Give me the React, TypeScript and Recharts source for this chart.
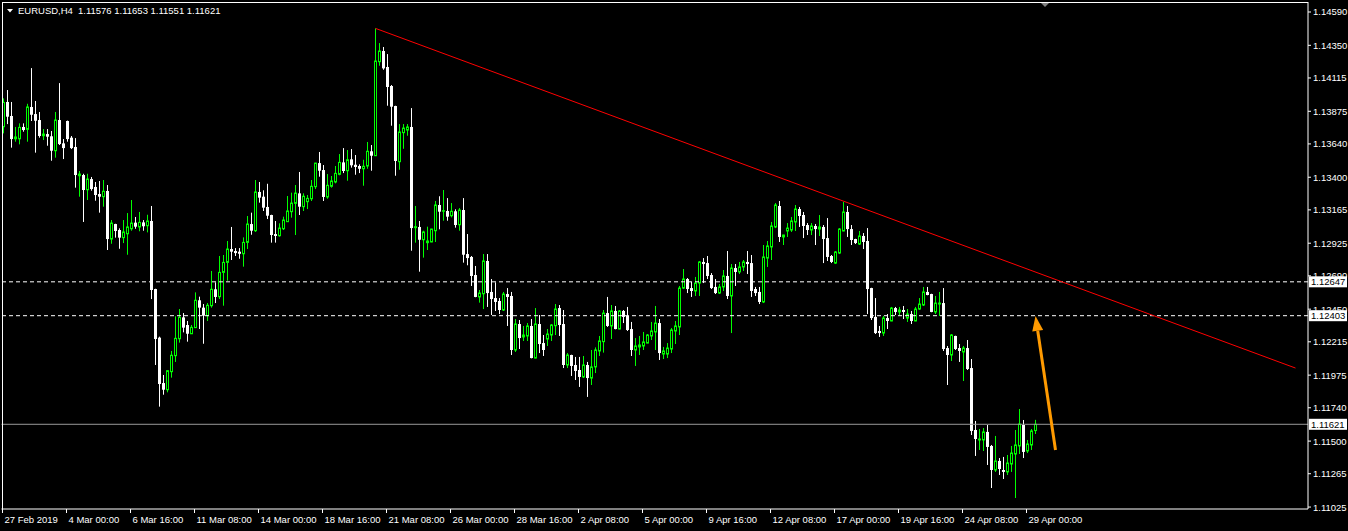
import { ComposedChart, Bar, XAxis, YAxis, ReferenceLine } from "recharts";

const W = 1348;
const H = 531;
const GREEN = "#00ff00";
const WHITE = "#ffffff";
const ORANGE = "#ff9a00";
const FONT = '"Liberation Sans", Arial, sans-serif';

// EURUSD H4 candles, prices in points (1e-5)
const openPts = [
  113764, 113942, 113841, 113677, 113677, 113762, 113745, 113906, 113855, 113812,
  113699, 113711, 113695, 113591, 113812, 113644, 113805, 113685, 113618, 113411,
  113416, 113310, 113387, 113330, 113279, 113260, 113301, 112955, 113063, 113020,
  112965, 112993, 113029, 113073, 113042, 113075, 113051, 113085, 112595, 112245,
  111918, 111870, 112000, 112115, 112237, 112391, 112336, 112273, 112317, 112514,
  112461, 112403, 112475, 112593, 112540, 112715, 112787, 112883, 112869, 112864,
  112849, 112931, 113063, 113015, 113294, 113260, 113186, 113128, 112991, 112979,
  113029, 113080, 113152, 113212, 113284, 113188, 113224, 113245, 113332, 113502,
  113452, 113258, 113335, 113366, 113421, 113507, 113447, 113529, 113490, 113481,
  113461, 113481, 113587, 113555, 114232, 114309, 114194, 114057, 113913, 113512,
  113721, 113740, 113762, 113037, 113042, 112950, 112929, 112934, 113015, 113200,
  113157, 113157, 113123, 113155, 113058, 113164, 112847, 112826, 112696, 112538,
  112561, 112797, 112574, 112530, 112509, 112444, 112559, 112545, 112156, 112343,
  112250, 112257, 112329, 112098, 112343, 112206, 112235, 112264, 112331, 112458,
  112343, 112048, 112120, 112048, 112012, 111962, 112048, 111954, 112034, 112149,
  112216, 112422, 112329, 112437, 112307, 112437, 112401, 112307, 112156, 112178,
  112185, 112206, 112257, 112286, 112350, 112127, 112127, 112163, 112293, 112322,
  112602, 112667, 112602, 112581, 112638, 112790, 112782, 112696, 112610, 112566,
  112610, 112689, 112545, 112746, 112718, 112754, 112790, 112782, 112595, 112574,
  112502, 112818, 112898, 113042, 113193, 112970, 113013, 113020, 113078, 113171,
  113128, 113056, 113020, 113049, 113027, 113042, 112962, 112833, 112782, 112854,
  113013, 113150, 113027, 112955, 112919, 112977, 112941, 112602, 112394, 112293,
  112278, 112386, 112365, 112458, 112430, 112444, 112386, 112415, 112365, 112451,
  112480, 112574, 112559, 112430, 112487, 112494, 112170, 112120, 112257, 112170,
  112142, 112170, 112026, 111580, 111508, 111508, 111566, 111465, 111292, 111357,
  111292, 111278, 111335, 111407, 111465, 111616, 111429, 111472, 111576,
];

const highPts = [
  113968, 114028, 113942, 113762, 113788, 113788, 113929, 114186, 113949, 113870,
  113747, 113747, 113733, 113870, 114078, 113675, 113808, 113697, 113682, 113445,
  113425, 113425, 113402, 113366, 113373, 113380, 113344, 113092, 113065, 113032,
  113092, 113142, 113236, 113114, 113150, 113092, 113130, 113193, 112597, 112252,
  111976, 112012, 112149, 112399, 112451, 112422, 112365, 112336, 112571, 112540,
  112487, 112494, 112725, 112643, 112833, 112840, 112941, 113042, 112890, 112890,
  112967, 113121, 113145, 113380, 113366, 113306, 113353, 113130, 113085, 113068,
  113116, 113265, 113289, 113344, 113438, 113284, 113272, 113380, 113504, 113582,
  113488, 113423, 113409, 113481, 113567, 113610, 113596, 113603, 113560, 113493,
  113526, 113654, 113632, 114472, 114366, 114338, 114287, 114064, 113915, 113783,
  113783, 113783, 113898, 113193, 113085, 113015, 113044, 113029, 113229, 113263,
  113308, 113250, 113214, 113169, 113178, 113250, 112991, 112833, 112761, 112588,
  112847, 112847, 112667, 112643, 112530, 112574, 112602, 112574, 112379, 112372,
  112329, 112350, 112379, 112458, 112408, 112264, 112307, 112343, 112487, 112480,
  112444, 112134, 112122, 112106, 112106, 112113, 112070, 112156, 112175, 112257,
  112444, 112538, 112480, 112473, 112444, 112444, 112466, 112358, 112242, 112257,
  112286, 112271, 112358, 112473, 112379, 112178, 112206, 112314, 112365, 112617,
  112739, 112674, 112646, 112682, 112797, 112818, 112833, 112710, 112667, 112631,
  112732, 112869, 112775, 112775, 112790, 112804, 112869, 112840, 112610, 112610,
  112912, 112941, 113078, 113214, 113229, 112986, 113070, 113114, 113200, 113186,
  113150, 113070, 113070, 113063, 113128, 113056, 113106, 112840, 112869, 113034,
  113222, 113193, 113056, 112957, 113013, 112998, 113034, 112604, 112530, 112329,
  112401, 112415, 112466, 112466, 112466, 112473, 112451, 112437, 112466, 112530,
  112610, 112610, 112561, 112545, 112574, 112602, 112185, 112271, 112259, 112199,
  112185, 112228, 112091, 111645, 111587, 111594, 111616, 111472, 111537, 111378,
  111386, 111400, 111465, 111580, 111731, 111652, 111508, 111587, 111653,
];

const lowPts = [
  113716, 113783, 113613, 113656, 113637, 113728, 113656, 113805, 113577, 113685,
  113668, 113627, 113519, 113541, 113632, 113531, 113656, 113603, 113325, 113260,
  113078, 113236, 113303, 113231, 113145, 113188, 112876, 112921, 112965, 112885,
  112926, 112842, 113015, 113029, 113011, 113015, 113003, 112523, 112048, 111748,
  111834, 111851, 111957, 112070, 112209, 112283, 112216, 112271, 112315, 112307,
  112201, 112365, 112461, 112494, 112523, 112475, 112655, 112804, 112833, 112813,
  112756, 112883, 112986, 113006, 113217, 113157, 113099, 112929, 112929, 112972,
  113020, 113078, 113109, 112984, 113128, 113157, 113171, 113229, 113315, 113404,
  113229, 113245, 113325, 113356, 113414, 113430, 113375, 113469, 113418, 113430,
  113339, 113461, 113447, 113553, 114203, 114174, 113915, 113771, 113411, 113454,
  113605, 113699, 112871, 112929, 112720, 112821, 112876, 112932, 112934, 113025,
  113087, 113087, 113111, 113037, 113015, 112785, 112766, 112617, 112536, 112497,
  112451, 112466, 112408, 112437, 112415, 112437, 112329, 112120, 112142, 112163,
  112221, 112221, 112096, 112096, 112134, 112113, 112185, 112221, 112264, 112257,
  112026, 112026, 111969, 111940, 111890, 111954, 111818, 111904, 111990, 112113,
  112137, 112322, 112235, 112305, 112305, 112350, 112293, 112113, 112041, 112120,
  112156, 112204, 112228, 112156, 112084, 112091, 112098, 112134, 112199, 112264,
  112595, 112566, 112538, 112545, 112545, 112638, 112667, 112595, 112559, 112559,
  112581, 112523, 112278, 112617, 112703, 112725, 112703, 112538, 112545, 112487,
  112494, 112754, 112804, 113034, 112934, 112912, 112970, 113006, 113013, 113042,
  112962, 112984, 112984, 112912, 112977, 112782, 112797, 112782, 112775, 112847,
  113011, 112970, 112912, 112919, 112912, 112883, 112415, 112372, 112271, 112250,
  112257, 112307, 112363, 112408, 112408, 112379, 112358, 112343, 112363, 112444,
  112473, 112550, 112428, 112415, 112401, 112149, 111904, 112077, 112156, 112070,
  111933, 112012, 111544, 111393, 111436, 111429, 111328, 111162, 111278, 111256,
  111227, 111256, 111278, 111090, 111407, 111378, 111414, 111436, 111551,
];

const closePts = [
  113939, 113836, 113675, 113690, 113759, 113740, 113906, 113850, 113807, 113697,
  113711, 113692, 113591, 113812, 113639, 113610, 113675, 113610, 113416, 113423,
  113308, 113387, 113315, 113272, 113260, 113299, 112955, 113070, 113013, 112965,
  113006, 113042, 113070, 113044, 113075, 113047, 113085, 112588, 112235, 111911,
  111870, 112007, 112118, 112240, 112391, 112317, 112273, 112319, 112514, 112461,
  112403, 112478, 112593, 112538, 112715, 112787, 112883, 112864, 112854, 112849,
  112931, 113063, 113015, 113294, 113253, 113181, 113123, 112984, 112977, 113034,
  113092, 113157, 113214, 113286, 113188, 113263, 113248, 113335, 113502, 113447,
  113258, 113342, 113373, 113428, 113507, 113445, 113526, 113486, 113474, 113461,
  113479, 113587, 113555, 114237, 114309, 114184, 114050, 113908, 113517, 113726,
  113754, 113762, 113034, 113044, 112950, 113006, 112941, 113027, 113200, 113152,
  113159, 113116, 113155, 113056, 113164, 112842, 112818, 112689, 112538, 112566,
  112797, 112566, 112523, 112502, 112444, 112559, 112538, 112156, 112343, 112242,
  112264, 112329, 112098, 112343, 112199, 112156, 112271, 112336, 112451, 112336,
  112048, 112120, 112041, 112005, 111962, 112048, 111954, 112034, 112156, 112221,
  112422, 112329, 112437, 112307, 112437, 112394, 112300, 112156, 112185, 112192,
  112214, 112264, 112293, 112350, 112134, 112149, 112170, 112300, 112329, 112602,
  112667, 112595, 112581, 112638, 112790, 112775, 112689, 112602, 112566, 112610,
  112689, 112545, 112746, 112718, 112754, 112790, 112775, 112581, 112566, 112502,
  112826, 112905, 113049, 113200, 112970, 112984, 113034, 113085, 113171, 113121,
  113049, 113020, 113049, 113027, 113042, 112955, 112826, 112790, 112862, 113027,
  113150, 113027, 112948, 112926, 112977, 112934, 112595, 112386, 112278, 112278,
  112386, 112365, 112458, 112430, 112444, 112430, 112415, 112365, 112451, 112487,
  112574, 112552, 112430, 112494, 112494, 112163, 112120, 112264, 112163, 112149,
  112170, 112019, 111573, 111515, 111515, 111566, 111458, 111292, 111357, 111299,
  111278, 111342, 111414, 111472, 111623, 111422, 111479, 111573, 111621,
];

const xLabels = [
  "27 Feb 2019", "4 Mar 00:00", "6 Mar 16:00", "11 Mar 08:00", "14 Mar 00:00",
  "18 Mar 16:00", "21 Mar 08:00", "26 Mar 00:00", "28 Mar 16:00", "2 Apr 08:00",
  "5 Apr 00:00", "9 Apr 16:00", "12 Apr 08:00", "17 Apr 00:00", "19 Apr 16:00",
  "24 Apr 08:00", "29 Apr 00:00",
];
const LABEL_EVERY = 16;

const priceTicks = [
  1.1459, 1.1435, 1.14115, 1.13875, 1.1364, 1.134, 1.13165, 1.12925,
  1.1269, 1.1245, 1.12215, 1.11975, 1.1174, 1.115, 1.11265, 1.11025,
];
const Y_DOMAIN = [1.11011, 1.14662];
const SLOTS = 326;

const levelLines = [1.12647, 1.12403];
const bidPrice = 1.11621;
const trendFrom = { i: 93, price: 1.14472 };
const trendTo = { i: 323, price: 1.12026 };
const arrowFrom = { i: 263, price: 1.11436 };
const arrowTo = { i: 258, price: 1.12401 };

const rows = Array.from({ length: SLOTS }, (_, i) =>
  i < closePts.length
    ? { i, o: openPts[i] / 1e5, h: highPts[i] / 1e5, l: lowPts[i] / 1e5, c: closePts[i] / 1e5 }
    : { i }
);

function Candle(props: any) {
  const { x, y, width, height, payload } = props;
  if (!payload || payload.o == null) return null;
  const top = Math.min(y, y + height);
  const h = Math.abs(height);
  const span = payload.h - payload.l;
  const toY = (v: number) => (span > 0 ? top + ((payload.h - v) / span) * h : top);
  const cx = Math.floor(x + width / 2) + 0.5;
  const up = payload.c > payload.o;
  const yo = toY(payload.o);
  const yc = toY(payload.c);
  const bt = Math.min(yo, yc);
  const bb = Math.max(yo, yc);
  return (
    <g>
      <line x1={cx} x2={cx} y1={top} y2={top + h} stroke={up ? GREEN : WHITE} />
      {up ? (
        <rect x={cx - 1} y={bt} width={2} height={Math.max(bb - bt, 0.5)} fill="#000" stroke={GREEN} />
      ) : (
        <rect x={cx - 1.5} y={bt} width={3} height={Math.max(bb - bt, 1)} fill={WHITE} />
      )}
    </g>
  );
}

function XTick({ x, y, payload }: any) {
  const label = xLabels[payload.value / LABEL_EVERY];
  if (!label) return null;
  const tx = Math.floor(x) - 0.5;
  return (
    <g>
      <line x1={tx} x2={tx} y1={y} y2={y + 4} stroke={WHITE} />
      <text x={tx + 2} y={y + 14} fill={WHITE} fontSize={9.5} fontFamily={FONT}>
        {label}
      </text>
    </g>
  );
}

function YTick({ x, y, payload }: any) {
  return (
    <g>
      <line x1={x} x2={x + 3} y1={y} y2={y} stroke={WHITE} />
      <text x={x + 5} y={y + 3.5} fill={WHITE} fontSize={9.5} fontFamily={FONT}>
        {Number(payload.value).toFixed(5)}
      </text>
    </g>
  );
}

function PriceTag({ viewBox, text }: any) {
  if (!viewBox) return null;
  const x = viewBox.x + viewBox.width + 1;
  const y = viewBox.y;
  return (
    <g>
      <rect x={x} y={y - 5.5} width={38} height={11} fill={WHITE} />
      <text x={x + 2} y={y + 3.5} fill="#000" fontSize={9.5} fontFamily={FONT}>
        {text}
      </text>
    </g>
  );
}

function Arrow(props: any) {
  const { x1, y1, x2, y2 } = props;
  const dx = x2 - x1;
  const dy = y2 - y1;
  const len = Math.hypot(dx, dy) || 1;
  const ux = dx / len;
  const uy = dy / len;
  const head = 15;
  const half = 5.5;
  const bx = x2 - ux * head;
  const by = y2 - uy * head;
  return (
    <g>
      <line x1={x1} y1={y1} x2={bx} y2={by} stroke={ORANGE} strokeWidth={3} />
      <polygon
        points={`${x2},${y2} ${bx - uy * half},${by + ux * half} ${bx + uy * half},${by - ux * half}`}
        fill={ORANGE}
      />
    </g>
  );
}

export default function App() {
  return (
    <div style={{ position: "fixed", left: 0, top: 0, width: W, height: H, background: "#000", overflow: "hidden" }}>
      <ComposedChart
        width={W}
        height={H}
        data={rows}
        margin={{ top: 2, right: 0, bottom: 0, left: 1.5 }}
        barCategoryGap={0}
        barGap={0}
      >
        <XAxis
          dataKey="i"
          interval={LABEL_EVERY - 1}
          tick={<XTick />}
          tickLine={false}
          tickSize={0}
          tickMargin={0}
          height={22}
          axisLine={{ stroke: WHITE }}
          padding={{ left: 0, right: 2.5 }}
        />
        <YAxis
          orientation="right"
          width={40}
          domain={Y_DOMAIN}
          allowDataOverflow
          ticks={priceTicks}
          interval={0}
          tick={<YTick />}
          tickLine={false}
          tickSize={0}
          tickMargin={0}
          axisLine={{ stroke: WHITE }}
        />
        <Bar
          dataKey={(d: any) => (d.o == null ? undefined : [d.l, d.h])}
          shape={<Candle />}
          isAnimationActive={false}
        />
        {levelLines.map((v) => (
          <ReferenceLine
            key={v}
            y={v}
            stroke={WHITE}
            strokeDasharray="4 3"
            label={<PriceTag text={v.toFixed(5)} />}
          />
        ))}
        <ReferenceLine y={bidPrice} stroke="#9a9a9a" label={<PriceTag text={bidPrice.toFixed(5)} />} />
        <ReferenceLine
          segment={[
            { x: trendFrom.i, y: trendFrom.price },
            { x: trendTo.i, y: trendTo.price },
          ]}
          stroke="#ff0000"
        />
        <ReferenceLine
          segment={[
            { x: arrowFrom.i, y: arrowFrom.price },
            { x: arrowTo.i, y: arrowTo.price },
          ]}
          shape={(p: any) => <Arrow {...p} />}
        />
      </ComposedChart>
      <svg
        width={W}
        height={H}
        style={{ position: "absolute", left: 0, top: 0, pointerEvents: "none" }}
      >
        <line x1={2} x2={1308} y1={2.5} y2={2.5} stroke={WHITE} />
        <line x1={2.5} x2={2.5} y1={2} y2={509} stroke={WHITE} />
        <polygon points="7,9 13,9 10,12.5" fill={WHITE} />
        <text x={18} y={14} fill={WHITE} fontSize={9.5} fontFamily={FONT}>
          EURUSD,H4
        </text>
        <text x={78} y={14} fill={WHITE} fontSize={9.5} fontFamily={FONT}>
          {[openPts, highPts, lowPts, closePts].map((a) => (a[a.length - 1] / 1e5).toFixed(5)).join(" ")}
        </text>
        <polygon points="1041,3 1049,3 1045,7" fill="#808080" />
      </svg>
    </div>
  );
}
